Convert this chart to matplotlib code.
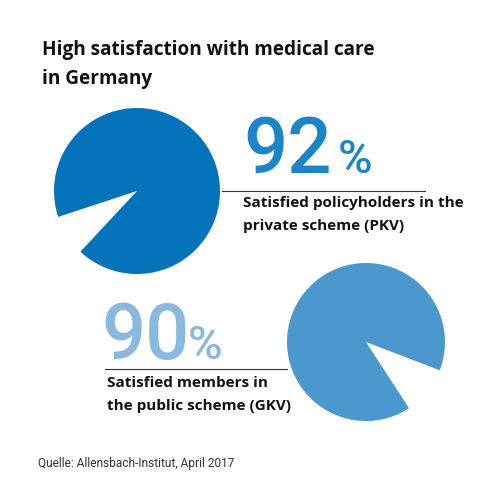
import matplotlib.pyplot as plt

# Data
shares = [92, 90]
labels = ["Satisfied policyholders in the\nprivate scheme (PKV)",
          "Satisfied members in\nthe public scheme (GKV)"]
title = "High satisfaction with medical care\nin Germany"
source = "Quelle: Allensbach-Institut, April 2017"

pie_colors = ["#0573b9", "#4a98cd"]
num_colors = ["#1a86c8", "#8ab8df"]

fig = plt.figure(figsize=(5, 5), dpi=100)
ax = fig.add_axes([0, 0, 1, 1])

# pies: y in pixel coords from top -> 500 - y
ax.pie([shares[0], 100 - shares[0]], colors=[pie_colors[0], "none"],
       startangle=227, center=(137, 500 - 191), radius=83, frame=True)
ax.pie([shares[1], 100 - shares[1]], colors=[pie_colors[1], "none"],
       startangle=-21, center=(366, 500 - 342), radius=79, frame=True)
ax.set_xlim(0, 500)
ax.set_ylim(0, 500)
ax.set_aspect("equal")
ax.axis("off")

bold = dict(family="Open Sans", weight="bold", color="#111111")
digits = dict(family="Roboto", weight="medium", ha="left", va="baseline")

ax.text(42, 500 - 40, title, ha="left", va="top", fontsize=13.7,
        linespacing=1.6, **bold)

# 92 %
ax.text(243, 500 - 173, f"{shares[0]}", fontsize=56,
        color=num_colors[0], **digits)
ax.text(338, 500 - 173, "%", fontsize=34, color=num_colors[0], **digits)
ax.plot([222, 425], [500 - 191, 500 - 191], color="#333333", lw=0.8)
ax.text(243, 500 - 196, labels[0], ha="left", va="top", fontsize=11,
        linespacing=1.8, **bold)

# 90 %
ax.text(101, 500 - 359, f"{shares[1]}", fontsize=56,
        color=num_colors[1], **digits)
ax.text(188, 500 - 359, "%", fontsize=34, color=num_colors[1], **digits)
ax.plot([105, 287], [500 - 369, 500 - 369], color="#333333", lw=0.8)
ax.text(107, 500 - 376, labels[1], ha="left", va="top", fontsize=11,
        linespacing=1.8, **bold)

ax.text(38, 500 - 464, source, ha="left", va="center", fontsize=8.6,
        family="Roboto", color="#333333")

fig.savefig("out.png", dpi=100)
